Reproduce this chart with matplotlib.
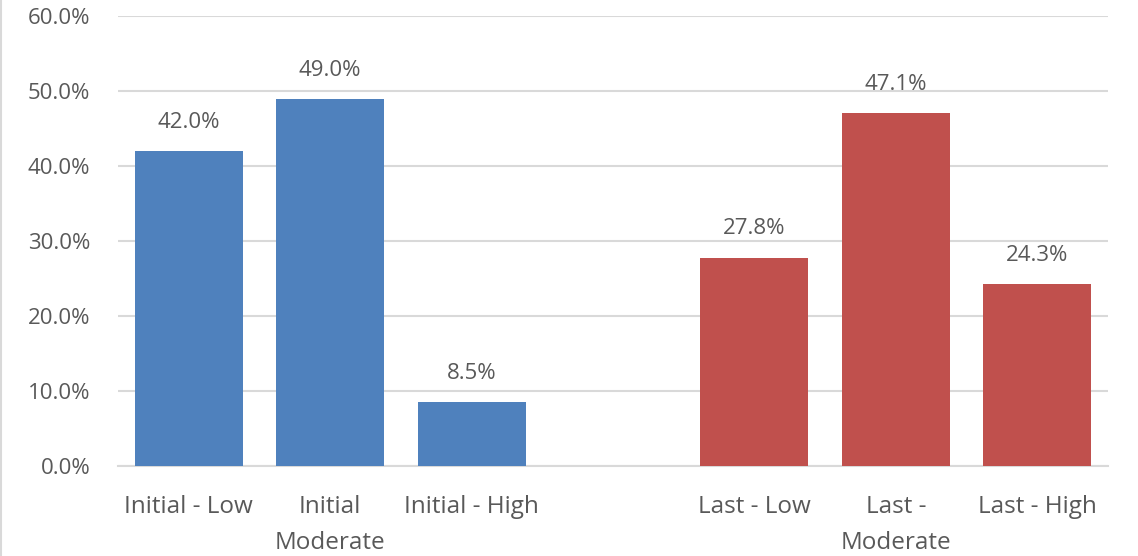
import matplotlib
matplotlib.use("Agg")
import matplotlib.pyplot as plt
from matplotlib.lines import Line2D

categories = ["Initial - Low", "Initial\nModerate", "Initial - High", "",
              "Last - Low", "Last -\nModerate", "Last - High"]
initial_vals = [42.0, 49.0, 8.5]
last_vals = [27.8, 47.1, 24.3]

text_col = "#595959"
plt.rcParams["font.family"] = ["Open Sans", "DejaVu Sans"]

fig = plt.figure(figsize=(11.38, 5.56), dpi=100)
ax = fig.add_axes([118 / 1138, 90 / 556, 990 / 1138, 450 / 556])

x_init = [0, 1, 2]
x_last = [4, 5, 6]
w = 0.764
b1 = ax.bar(x_init, initial_vals, width=w, color="#4F81BD", zorder=3)
b2 = ax.bar(x_last, last_vals, width=w, color="#C0504D", zorder=3)

for bars, vals in ((b1, initial_vals), (b2, last_vals)):
    for r, v in zip(bars, vals):
        ax.annotate("%.1f%%" % v, (r.get_x() + r.get_width() / 2, v),
                    xytext=(0, 18), textcoords="offset pixels",
                    ha="center", va="bottom", fontsize=16, color=text_col)

ax.set_xlim(-0.5, 6.5)
ax.set_ylim(0, 60)
ax.set_yticks(range(0, 61, 10))
ax.set_yticklabels(["%.1f%%" % t for t in range(0, 61, 10)])
ax.set_xticks(range(7))
ax.set_xticklabels(categories, linespacing=1.65)
ax.tick_params(axis="both", length=0, labelsize=16, labelcolor=text_col)
ax.tick_params(axis="x", pad=21, labelsize=17.5)
ax.tick_params(axis="y", pad=20)
ax.yaxis.grid(True, color="#D9D9D9", linewidth=1.5, zorder=0)
ax.set_axisbelow(True)
for s in ["top", "right", "left"]:
    ax.spines[s].set_visible(False)
ax.spines["bottom"].set_color("#D9D9D9")
ax.spines["bottom"].set_linewidth(1.5)

fig.add_artist(Line2D([0.001, 0.001], [0, 1], transform=fig.transFigure,
                      color="#D9D9D9", linewidth=1.5))

fig.savefig("out.png", dpi=100)
